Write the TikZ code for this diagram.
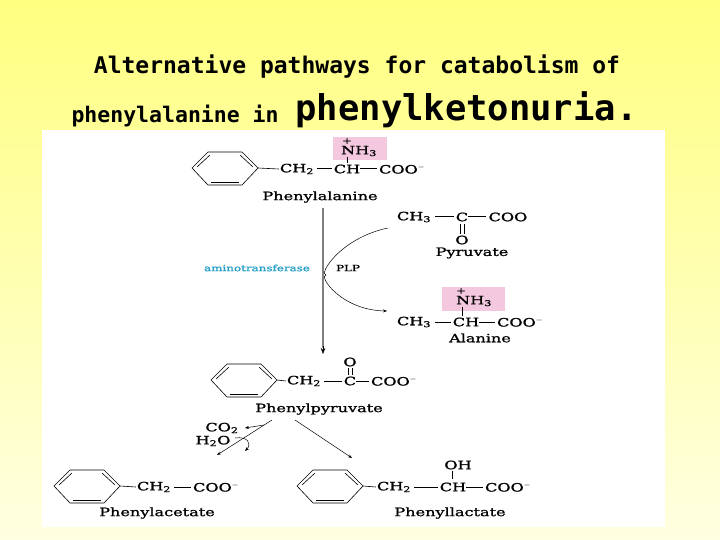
\documentclass[tikz,border=0pt]{standalone}
\usepackage{fontspec}
\newfontfamily\titlefont{DejaVu Sans Mono}
\newfontfamily\chemfont[FakeStretch=1.4, FakeBold=1.2]{DejaVu Serif}
\usetikzlibrary{arrows.meta}
\definecolor{bgtop}{RGB}{255,255,128}
\definecolor{bgbot}{RGB}{255,255,225}
\definecolor{nhpink}{RGB}{244,200,222}
\definecolor{enzcyan}{RGB}{40,160,200}
\tikzset{
  chem/.style={font=\chemfont\fontsize{11.5}{13}\selectfont, inner sep=0pt},
  cname/.style={font=\chemfont\fontsize{11.5}{13}\selectfont, inner sep=0pt},
  bond/.style={line width=1pt},
  ring/.style={line width=0.6pt},
  step arrow/.style={-{Stealth[length=4pt]}, line width=0.5pt},
}
\newcommand{\benzene}[2]{%
  \draw[ring] (#1-33,#2) -- (#1-17,#2-16) -- (#1+17,#2-16) -- (#1+33,#2) -- (#1+17,#2+17) -- (#1-17,#2+17) -- cycle;
  \draw[ring] (#1-28,#2-1) -- (#1-15,#2-13);
  \draw[ring] (#1+15,#2-13) -- (#1+28,#2-1);
  \draw[ring] (#1-14,#2+14) -- (#1+14,#2+14);
}
\newcommand{\sub}[1]{\textsubscript{#1}}
\begin{document}
\begin{tikzpicture}[x=1pt,y=-1pt]
\shade[top color=bgtop, bottom color=bgbot] (0,0) rectangle (720,540);
\useasboundingbox (0,0) rectangle (720,540);
\fill[white] (42,130) rectangle (665,527);
% title
\node[font=\titlefont\bfseries\fontsize{23}{26}\selectfont] (t1) at (357,67) {Alternative pathways for catabolism of};
\node[font=\titlefont\bfseries\fontsize{21.5}{26}\selectfont, anchor=west] (t2) at (68,116) {phenylalanine in};
\node[font=\titlefont\bfseries\fontsize{35.5}{40}\selectfont, anchor=west] (t3) at (292,110) {phenylketonuria.};
% phenylalanine
\benzene{225}{168}
\fill[nhpink] (333,137) rectangle (387,160);
\node[chem] (phnh) at (359,151) {NH\sub{3}};
\node[chem, font=\chemfont\fontsize{8}{8}\selectfont] (phpl) at (347,141) {+};
\node[chem] (phc1) at (297,169) {CH\sub{2}};
\node[chem] (phc2) at (347,169) {CH};
\node[chem] (phc3) at (402,169) {COO$^-$};
\draw[ring] (258,168) -- ([xshift=-1pt]phc1.west);
\draw[bond] (phc1.east) ++(3,0) -- ([xshift=-2pt]phc2.west);
\draw[bond] (phc2.east) -- ([xshift=-2pt]phc3.west);
\draw[bond] (347,157) -- (347,163);
\node[cname] (phe) at (320,197) {Phenylalanine};
% transamination
\draw[gray, line width=2.5pt] (323,208) -- (323,348);
\draw[-{Stealth[length=6pt]}, line width=0.5pt] (323,346) -- (323,354);
\node[chem] (py1) at (414,217) {CH\sub{3}};
\node[chem] (py2) at (462,217) {C};
\node[chem] (py3) at (508,217) {COO};
\draw[bond] (py1.east) ++(4,0) -- ([xshift=-2pt]py2.west);
\draw[bond] (py2.east) -- ([xshift=-2pt]py3.west);
\draw[line width=0.7pt] (460,224) -- (460,234) (464,224) -- (464,234);
\node[chem] (pyo) at (462,240) {O};
\node[cname] (pyr) at (472,253) {Pyruvate};
\node[font=\chemfont\fontsize{8.5}{10}\selectfont, text=enzcyan] (enz) at (257,268) {aminotransferase};
\node[font=\chemfont\fontsize{8.5}{10}\selectfont] (plp) at (348,268) {PLP};
\coordinate (cvin) at (388,228);
\coordinate (cvout) at (387,311);
\draw[step arrow] (cvin) .. controls (340,238) and (318,275) .. (326,275) .. controls (318,275) and (340,310) .. (cvout);
\fill[nhpink] (442,287) rectangle (505,311);
\node[chem] (alnh) at (474,301) {NH\sub{3}};
\node[chem, font=\chemfont\fontsize{8}{8}\selectfont] (alpl) at (461,291) {+};
\node[chem] (al1) at (414,322) {CH\sub{3}};
\node[chem] (al2) at (466,322) {CH};
\node[chem] (al3) at (520,322) {COO$^-$};
\draw[bond] (al1.east) ++(4,0) -- ([xshift=-2pt]al2.west);
\draw[bond] (al2.east) -- ([xshift=-2pt]al3.west);
\draw[bond] (462,307) -- (462,316);
\node[cname] (ala) at (480,338) {Alanine};
% phenylpyruvate
\benzene{244}{380}
\node[chem] (pp1) at (304,381) {CH\sub{2}};
\node[chem] (pp2) at (350,381) {C};
\node[chem] (pp3) at (394,381) {COO$^-$};
\draw[ring] (277,380) -- ([xshift=-1pt]pp1.west);
\draw[bond] (pp1.east) ++(3,0) -- ([xshift=-2pt]pp2.west);
\draw[bond] (pp2.east) -- ([xshift=-2pt]pp3.west);
\node[chem] (ppo) at (350,362) {O};
\draw[line width=0.7pt] (348,368) -- (348,375) (352,368) -- (352,375);
\node[cname] (ppy) at (319,409) {Phenylpyruvate};
% branches
\coordinate (brl) at (272,420);
\coordinate (brr) at (295,420);
\coordinate (pal) at (217,455);
\coordinate (pll) at (352,458);
\draw[step arrow] (brl) -- (pal);
\draw[step arrow] (brr) -- (pll);
\node[chem] (co2) at (222,428) {CO\sub{2}};
\node[chem] (h2o) at (213,441) {H\sub{2}O};
\draw[step arrow] (264,425) -- (245,428);
\draw[step arrow] (235,438) .. controls (248,436) and (252,444) .. (245,451);
% phenylacetate
\benzene{87}{486}
\node[chem] (pa1) at (154,487) {CH\sub{2}};
\node[chem] (pa2) at (216,487) {COO$^-$};
\draw[ring] (120,486) -- ([xshift=-1pt]pa1.west);
\draw[bond] (pa1.east) ++(3,0) -- ([xshift=-2pt]pa2.west);
\node[cname] (pac) at (157,513) {Phenylacetate};
% phenyllactate
\benzene{330}{486}
\node[chem] (pl1) at (394,487) {CH\sub{2}};
\node[chem] (pl2) at (453,487) {CH};
\node[chem] (pl3) at (508,487) {COO$^-$};
\draw[ring] (363,486) -- ([xshift=-1pt]pl1.west);
\draw[bond] (pl1.east) ++(3,0) -- ([xshift=-2pt]pl2.west);
\draw[bond] (pl2.east) -- ([xshift=-2pt]pl3.west);
\node[chem] (ploh) at (458,465) {OH};
\draw[bond] (452,471) -- (452,479);
\node[cname] (plc) at (450,513) {Phenyllactate};
\end{tikzpicture}
\end{document}
